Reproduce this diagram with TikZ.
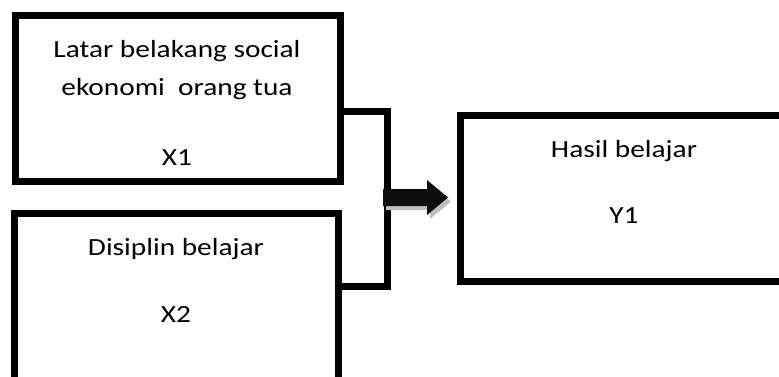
\documentclass[tikz,border=0pt]{standalone}
\usepackage{fontspec}
\setmainfont{Carlito}[FakeStretch=1.19]
\begin{document}
\begin{tikzpicture}[x=0.75pt, y=-0.75pt,
    box/.style={draw, line width=5.25pt, inner sep=0pt},
    conn/.style={line width=5.25pt},
    lbl/.style={anchor=base, font=\fontsize{18.5}{22}\selectfont}]
      \useasboundingbox (0, 0) rectangle (779, 376);
      \clip (0, 0) rectangle (779, 376);
      \node (x1) [box, minimum width=243.75pt, minimum height=124.5pt] at (177.5, 98) {};
      \node (x2) [box, minimum width=243pt, minimum height=155.25pt] at (176, 316.5) {};
      \node (y1) [box, minimum width=270pt, minimum height=124.5pt] at (640, 198) {};
      \node (x1a) [lbl] at (177, 57) {Latar belakang social};
      \node (x1b) [lbl] at (177, 95) {ekonomi~ orang tua};
      \node (x1c) [lbl] at (177, 165) {X1};
      \node (x2a) [lbl] at (176, 255) {Disiplin belajar};
      \node (x2b) [lbl] at (176, 322) {X2};
      \node (y1a) [lbl] at (624, 157) {Hasil belajar};
      \node (y1b) [lbl] at (624, 223) {Y1};
      \coordinate (top) at (387, 111);
      \coordinate (bot) at (387, 286);
      \draw [conn] (x1.east |- top) -- (top) -- (bot) -- (x2.east |- bot);
      % block arrow with its shadow
      \fill [black!25, shift={(3, 4)}] (383, 189) -- (427, 189) -- (427, 180) -- (448, 197.5)
            -- (427, 215) -- (427, 206) -- (383, 206) -- cycle;
      \fill [black!95] (383, 189) -- (427, 189) -- (427, 180) -- (448, 197.5)
            -- (427, 215) -- (427, 206) -- (383, 206) -- cycle;
\end{tikzpicture}
\end{document}
